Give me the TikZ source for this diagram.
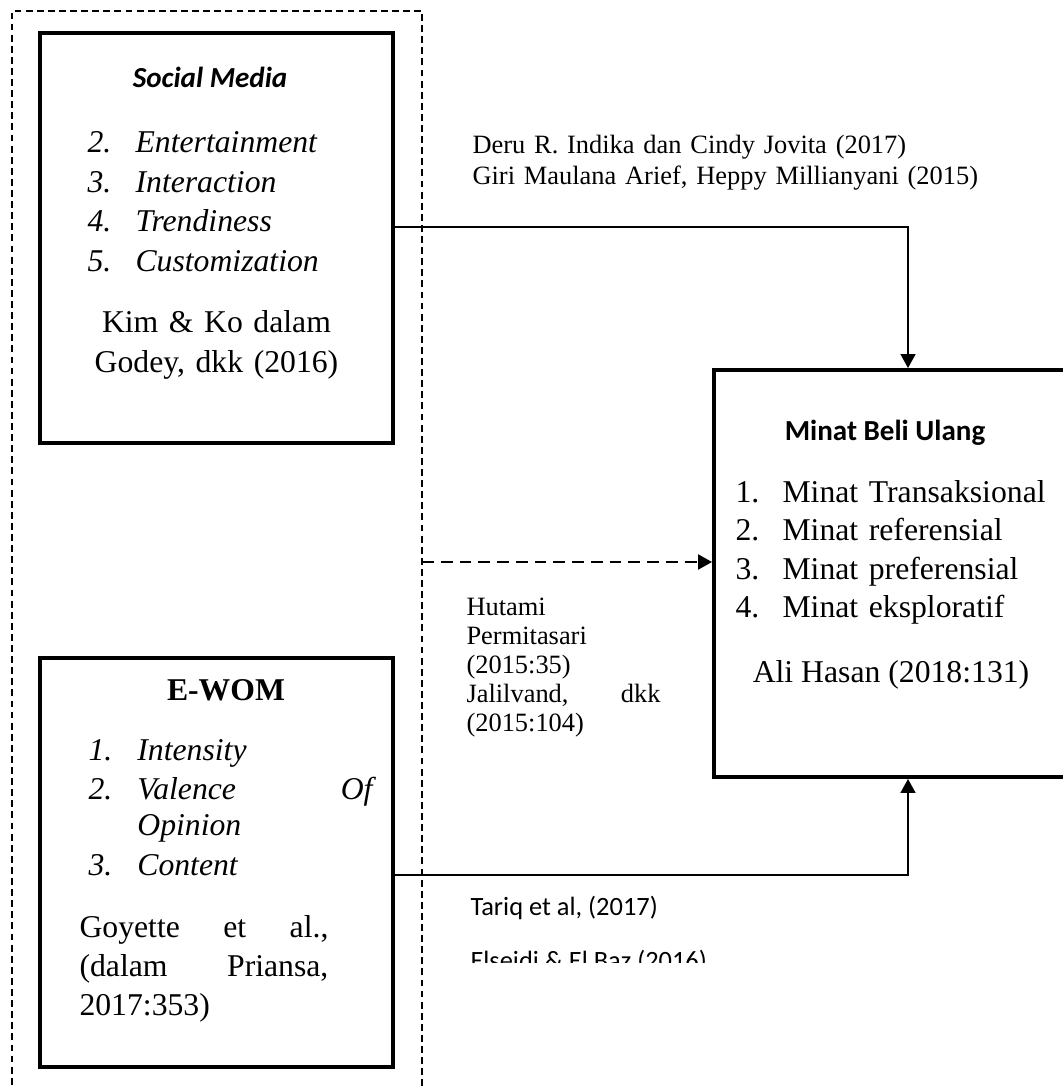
\documentclass[tikz,border=0pt]{standalone}
\usepackage{fontspec}
\setmainfont{Liberation Serif}
\newfontfamily\calibri{Carlito}
\usetikzlibrary{arrows.meta,positioning}
\newcommand{\numrow}[3]{\makebox[#1][l]{#2}#3}

\begin{document}
\begin{tikzpicture}[x=0.3785pt,y=-0.3785pt,>={Triangle[length=5.3pt,width=5.6pt]}]
\tikzset{mainbox/.style={draw,line width=1.5pt,minimum width=133.6pt,minimum height=155pt,inner sep=0pt},
  groupframe/.style={draw,line width=0.6pt,dash pattern=on 2.6pt off 1.6pt,minimum width=155.2pt,minimum height=419.8pt,inner sep=0pt},
  link/.style={->,line width=0.8pt},
  dashlink/.style={->,line width=1pt,dash pattern=on 4.5pt off 2.6pt},
  txt/.style={inner sep=0pt,align=left,font=\fontsize{12}{14.9}\selectfont},
  small/.style={inner sep=0pt,align=left,font=\fontsize{10}{11.7}\selectfont},
  head/.style={inner sep=0pt,font=\calibri\bfseries\fontsize{11}{13}\selectfont}}
\useasboundingbox (0,0) rectangle (1062,1088);

\node[groupframe] (grp) at (217,565.5) {};
\node[mainbox] (sm) at (216.5,238) {};
\node[mainbox] (ew) at (216.5,862.5) {};
\node[mainbox,minimum width=136.6pt,minimum height=154pt] (mb) at (894.5,573.5) {};

% social media
\node[head,font=\calibri\bfseries\itshape\fontsize{11}{13}\selectfont,anchor=base] (smhead) at (210,88) {Social Media};
\node[txt,font=\fontsize{12}{14.9}\selectfont\itshape,anchor=base west,text width=110pt] (smlist) at (87,153)
  {\numrow{18.2pt}{2.}{Entertainment}\\\numrow{18.2pt}{3.}{Interaction}\\\numrow{18.2pt}{4.}{Trendiness}\\\numrow{18.2pt}{5.}{Customization}};
\node[txt,align=center,anchor=base,text width=120pt] (smref) at (216.5,333) {Kim \& Ko dalam\\Godey, dkk (2016)};

% e-wom
\node[txt,font=\fontsize{12}{14.9}\selectfont\bfseries,anchor=base] (ewhead) at (226,700) {E-WOM};
\node[txt,font=\fontsize{12}{13.6}\selectfont\itshape,anchor=base west,text width=110pt] (ewlist) at (88,760)
  {\numrow{18.5pt}{1.}{Intensity}\\[1.5pt]\numrow{18.5pt}{2.}{\makebox[89pt][l]{Valence\hfill Of}}\\\numrow{18.5pt}{}{Opinion}\\[1.6pt]\numrow{18.5pt}{3.}{Content}};
\node[txt,anchor=base west,text width=94.2pt] (ewref) at (79,937)
  {\makebox[94.2pt][l]{Goyette\hfill et\hfill al.,}\\\makebox[94.2pt][l]{(dalam\hfill Priansa,}\\2017:353)};

% minat beli ulang
\node[head,anchor=base] (mbhead) at (885,440) {Minat Beli Ulang};
\node[txt,font=\fontsize{12}{14.6}\selectfont,anchor=base west,text width=120pt] (mblist) at (735,502)
  {\numrow{17.8pt}{1.}{Minat Transaksional}\\\numrow{17.8pt}{2.}{Minat referensial}\\\numrow{17.8pt}{3.}{Minat preferensial}\\\numrow{17.8pt}{4.}{Minat eksploratif}};
\node[txt,anchor=base] (mbref) at (891,682) {Ali Hasan (2018:131)};

% references on the links
\node[small,anchor=base west,text width=200pt] (ref1) at (472,154)
  {Deru R. Indika dan Cindy Jovita (2017)\\Giri Maulana Arief, Heppy Millianyani (2015)};
\node[small,font=\fontsize{10}{10.98}\selectfont,anchor=base west,text width=73.4pt] (ref2) at (466,615)
  {Hutami\\Permitasari\\(2015:35)\\\makebox[73.4pt][l]{Jalilvand,\hfill dkk}\\(2015:104)};
\node[inner sep=0pt,font=\calibri\fontsize{10}{12}\selectfont,anchor=base west] (ref3) at (470,915) {Tariq et al, (2017)};
\begin{scope}
\clip (440,930) rectangle (720,962);
\node[inner sep=0pt,font=\calibri\fontsize{10}{12}\selectfont,anchor=base west] (ref4) at (470,969) {Elseidi \& El Baz (2016)};
\end{scope}

\coordinate (k1) at (908,227);
\coordinate (k2) at (422,562);
\coordinate (k3) at (908,875);
\draw[link] (sm.east |- k1) -- (k1) -- (mb.north -| k1);
\draw[dashlink] (k2) -- (mb.west |- k2);
\draw[link] (ew.east |- k3) -- (k3) -- (mb.south -| k3);
\end{tikzpicture}
\end{document}
